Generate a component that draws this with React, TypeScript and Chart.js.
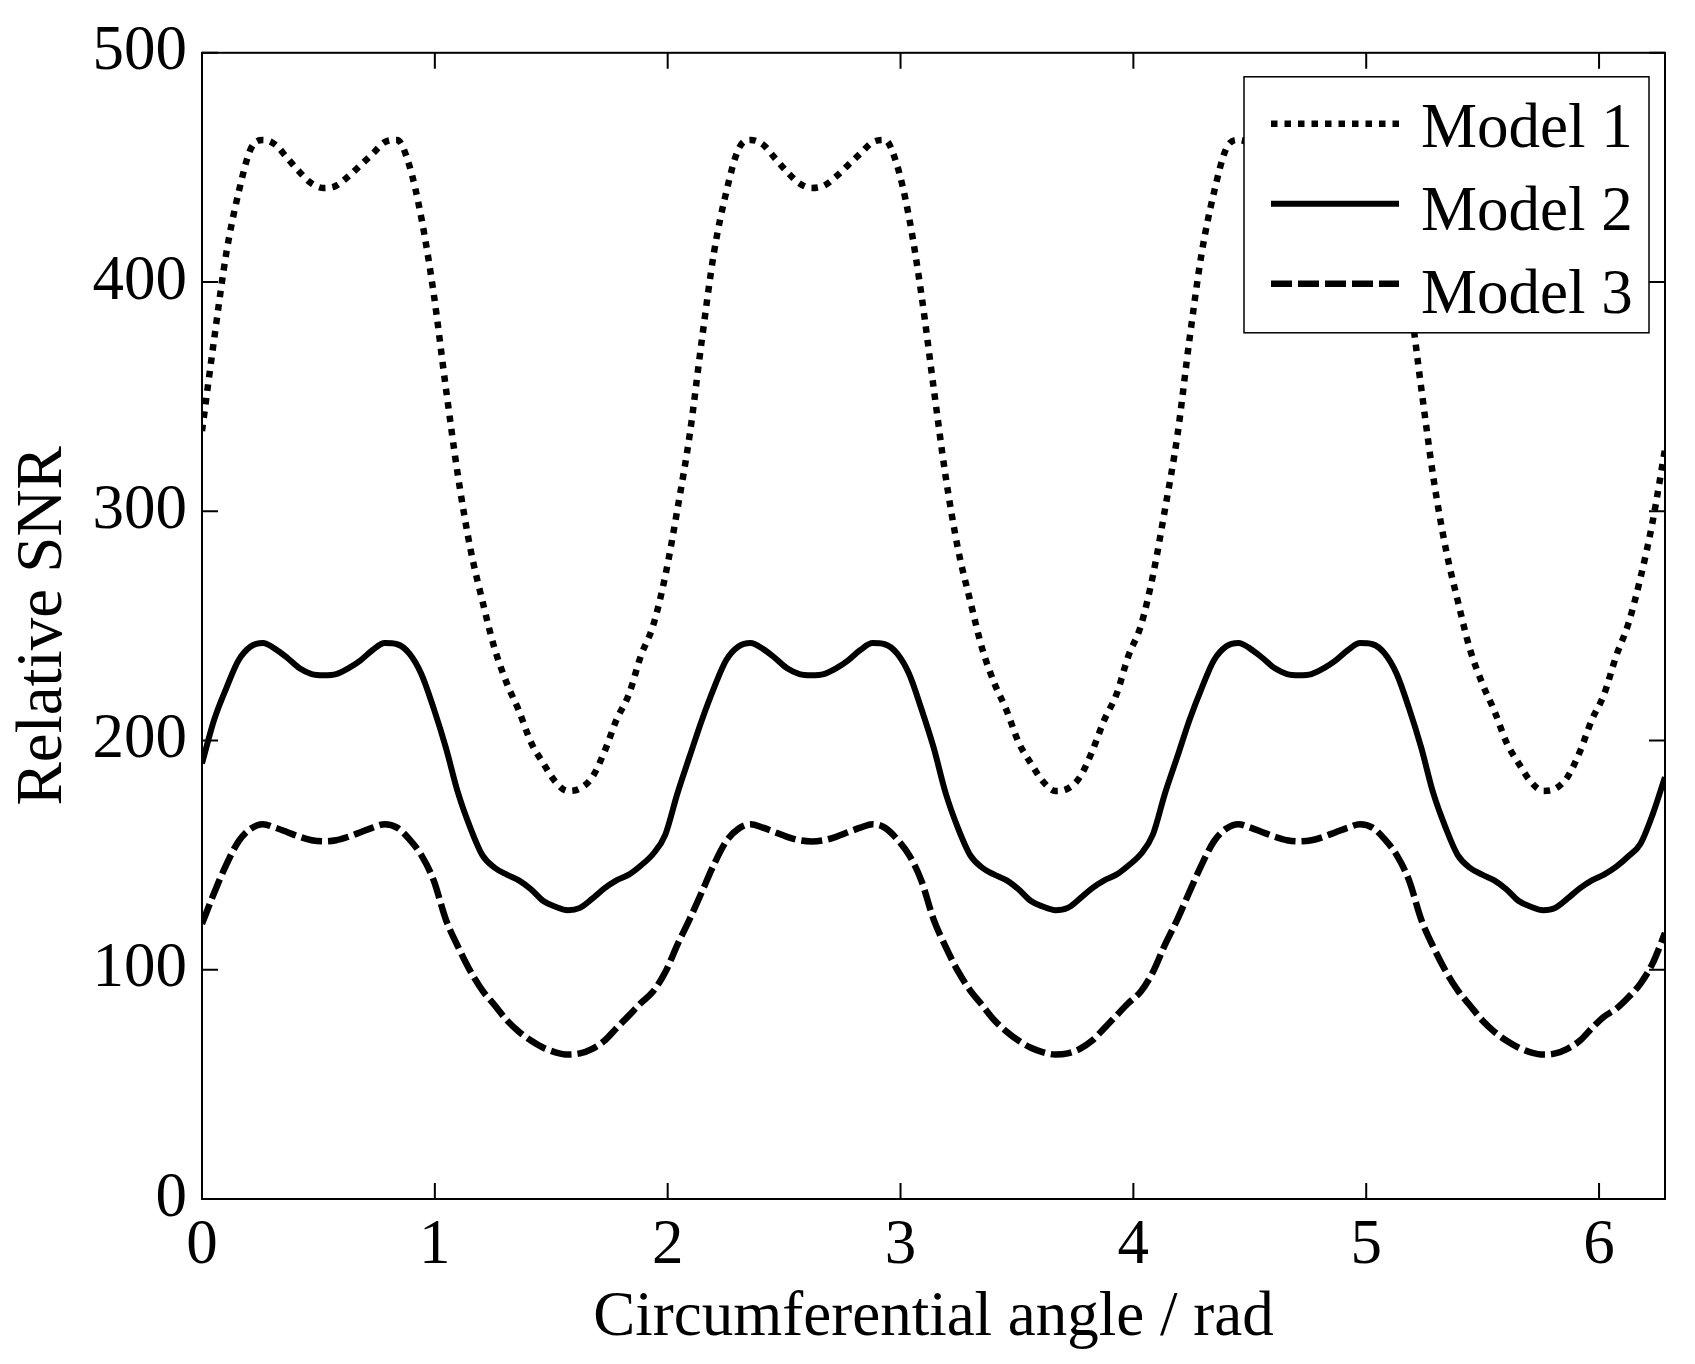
import { useEffect, useRef } from 'react';
import { Chart, registerables } from 'chart.js';

Chart.register(...registerables);

// circumferential angle grid (rad), step pi/60
const angles = [
  0, 0.052, 0.105, 0.157, 0.209, 0.262, 0.314, 0.367, 0.419, 0.471, 0.524, 0.576, 0.628, 0.681, 0.733, 0.785,
  0.838, 0.890, 0.942, 0.995, 1.047, 1.100, 1.152, 1.204, 1.257, 1.309, 1.361, 1.414, 1.466, 1.518, 1.571, 1.623,
  1.676, 1.728, 1.780, 1.833, 1.885, 1.937, 1.990, 2.042, 2.094,
  2.147, 2.199, 2.251, 2.304, 2.356, 2.409, 2.461, 2.513, 2.566, 2.618, 2.670, 2.723, 2.775, 2.827, 2.880, 2.932,
  2.985, 3.037, 3.089, 3.142,
  3.194, 3.246, 3.299, 3.351, 3.403, 3.456, 3.508, 3.560, 3.613, 3.665, 3.718, 3.770, 3.822, 3.875, 3.927, 3.979,
  4.032, 4.084, 4.136, 4.189,
  4.241, 4.294, 4.346, 4.398, 4.451, 4.503, 4.555, 4.608, 4.660, 4.712, 4.765, 4.817, 4.869, 4.922, 4.974, 5.027,
  5.079, 5.131, 5.184, 5.236,
  5.288, 5.341, 5.393, 5.445, 5.498, 5.550, 5.603, 5.655, 5.707, 5.760, 5.812, 5.864, 5.917, 5.969, 6.021, 6.074,
  6.126, 6.178, 6.231, 6.283,
];

const model1 = [
  335, 375, 413, 439, 458, 462, 460, 454, 448, 443, 441, 442, 446, 451, 456, 461, 462, 451, 428, 395,
  354, 315, 284, 261, 240, 225, 213, 199, 190, 182, 178, 179, 184, 195, 209, 220, 237, 250, 272, 301,
  333, 375, 413, 439, 458, 462, 460, 454, 448, 443, 441, 442, 446, 451, 456, 461, 462, 451, 428, 395,
  354, 315, 284, 261, 240, 225, 213, 199, 190, 182, 178, 179, 184, 195, 209, 220, 237, 250, 272, 301,
  333, 375, 413, 439, 458, 462, 460, 454, 448, 443, 441, 442, 446, 451, 456, 461, 462, 451, 428, 395,
  354, 315, 284, 261, 240, 225, 213, 199, 190, 182, 178, 179, 184, 195, 209, 220, 237, 251, 271, 296,
  327,
];

const model2 = [
  190, 209, 223, 235, 241, 242.5, 240, 236, 231.5, 229, 228.5, 229, 231.5, 235, 239.5, 242.5, 242, 238, 229, 214,
  197, 177, 162, 150, 144.5, 141.5, 139, 135, 130, 127.5, 126, 127, 131, 135.5, 139, 141.5, 145.5, 150.5, 159, 177,
  193, 209, 223, 235, 241, 242.5, 240, 236, 231.5, 229, 228.5, 229, 231.5, 235, 239.5, 242.5, 242, 238, 229, 214,
  197, 177, 162, 150, 144.5, 141.5, 139, 135, 130, 127.5, 126, 127, 131, 135.5, 139, 141.5, 145.5, 150.5, 159, 177,
  193, 209, 223, 235, 241, 242.5, 240, 236, 231.5, 229, 228.5, 229, 231.5, 235, 239.5, 242.5, 242, 238, 229, 214,
  197, 177, 162, 150, 144.5, 141.5, 139, 135, 130, 127.5, 126, 127, 131, 135.5, 139, 141.5, 145, 149.5, 155, 168,
  184,
];

const model3 = [
  120, 133.5, 146, 156, 161.5, 163.5, 162, 160, 158, 156.5, 156, 156.5, 158, 160, 162, 163.5, 162, 157, 150, 139,
  122, 110, 99.5, 91, 84.5, 78, 73, 69, 66, 64, 63, 63.5, 65.5, 69, 74.5, 80, 85.5, 90.5, 99, 111,
  122, 134, 146, 156, 161.5, 163.5, 162, 160, 158, 156.5, 156, 156.5, 158, 160, 162, 163.5, 162, 157, 150, 139,
  122, 110, 99.5, 91, 84.5, 78, 73, 69, 66, 64, 63, 63.5, 65.5, 69, 74.5, 80, 85.5, 90.5, 99, 111,
  122, 134, 146, 156, 161.5, 163.5, 162, 160, 158, 156.5, 156, 156.5, 158, 160, 162, 163.5, 162, 157, 150, 139,
  122, 110, 99.5, 91, 84.5, 78, 73, 69, 66, 64, 63, 63.5, 65.5, 69, 74.5, 79.5, 83, 88, 94, 103,
  116,
];

const seriesLabels = ['Model 1', 'Model 2', 'Model 3'];
const xTickValues = [0, 1, 2, 3, 4, 5, 6];
const yTickValues = [0, 100, 200, 300, 400, 500];

const FONT_FAMILY = '"Liberation Serif", "Times New Roman", serif';
const TICK_LEN = 16;

// inward ticks on all four sides, the box, and the boxed legend in the top right corner
const framePlugin = {
  id: 'matlabFrame',
  afterDatasetsDraw(chart: any) {
    const { ctx, chartArea: a, scales } = chart;
    ctx.save();
    ctx.strokeStyle = '#000';
    ctx.lineWidth = 2;
    ctx.setLineDash([]);
    ctx.strokeRect(a.left, a.top, a.right - a.left, a.bottom - a.top);

    ctx.beginPath();
    scales.x.ticks.forEach((t: any) => {
      const px = scales.x.getPixelForValue(t.value);
      ctx.moveTo(px, a.bottom);
      ctx.lineTo(px, a.bottom - TICK_LEN);
      ctx.moveTo(px, a.top);
      ctx.lineTo(px, a.top + TICK_LEN);
    });
    scales.y.ticks.forEach((t: any) => {
      const py = scales.y.getPixelForValue(t.value);
      ctx.moveTo(a.left, py);
      ctx.lineTo(a.left + TICK_LEN, py);
      ctx.moveTo(a.right, py);
      ctx.lineTo(a.right - TICK_LEN, py);
    });
    ctx.stroke();

    // legend
    const boxW = 405;
    const boxH = 256;
    const boxX = a.right - 16 - boxW;
    const boxY = a.top + 24;
    ctx.fillStyle = '#fff';
    ctx.fillRect(boxX, boxY, boxW, boxH);
    ctx.lineWidth = 1.5;
    ctx.strokeRect(boxX, boxY, boxW, boxH);

    ctx.font = `63px ${FONT_FAMILY}`;
    ctx.textAlign = 'left';
    ctx.textBaseline = 'alphabetic';
    chart.data.datasets.forEach((ds: any, i: number) => {
      const ly = boxY + 47 + 80 * i;
      ctx.beginPath();
      ctx.lineWidth = ds.borderWidth;
      ctx.setLineDash(ds.borderDash || []);
      ctx.moveTo(boxX + 27, ly);
      ctx.lineTo(boxX + 155, ly);
      ctx.stroke();
      ctx.setLineDash([]);
      ctx.fillStyle = '#000';
      ctx.fillText(ds.label, boxX + 177, boxY + 70 + 83 * i);
    });
    ctx.restore();
  },
};

export default function App() {
  const canvasRef = useRef<HTMLCanvasElement | null>(null);

  useEffect(() => {
    document.body.style.margin = '0';
    const canvas = canvasRef.current;
    if (!canvas) return;

    const toPoints = (vals: number[]) => angles.map((x, i) => ({ x, y: vals[i] }));

    const chart = new Chart(canvas, {
      type: 'line',
      data: {
        datasets: [
          {
            label: seriesLabels[0],
            data: toPoints(model1),
            borderColor: '#000',
            borderWidth: 6.5,
            borderDash: [6.5, 7],
            pointRadius: 0,
            cubicInterpolationMode: 'monotone',
          },
          {
            label: seriesLabels[1],
            data: toPoints(model2),
            borderColor: '#000',
            borderWidth: 6,
            borderDash: [],
            pointRadius: 0,
            cubicInterpolationMode: 'monotone',
          },
          {
            label: seriesLabels[2],
            data: toPoints(model3),
            borderColor: '#000',
            borderWidth: 6.5,
            borderDash: [21, 6],
            pointRadius: 0,
            cubicInterpolationMode: 'monotone',
          },
        ],
      },
      options: {
        animation: false,
        responsive: true,
        maintainAspectRatio: false,
        layout: { padding: { top: 49, right: 30, bottom: 0, left: 0 } },
        plugins: {
          legend: { display: false },
          tooltip: { enabled: false },
        },
        scales: {
          x: {
            type: 'linear',
            min: 0,
            max: 2 * Math.PI,
            afterBuildTicks: (s: any) => {
              s.ticks = xTickValues.map((value) => ({ value }));
            },
            afterFit: (s: any) => {
              s.height = 165;
            },
            grid: { display: false, drawTicks: false },
            border: { display: false },
            ticks: {
              color: '#000',
              padding: 10,
              maxRotation: 0,
              autoSkip: false,
              font: { family: FONT_FAMILY, size: 63 },
            },
            title: {
              display: true,
              text: 'Circumferential angle / rad',
              color: '#000',
              padding: { top: 0, bottom: 8 },
              font: { family: FONT_FAMILY, size: 63, lineHeight: 1.2 },
            },
          },
          y: {
            type: 'linear',
            min: 0,
            max: 500,
            afterBuildTicks: (s: any) => {
              s.ticks = yTickValues.map((value) => ({ value }));
            },
            afterFit: (s: any) => {
              s.width = 202;
            },
            grid: { display: false, drawTicks: false },
            border: { display: false },
            ticks: {
              color: '#000',
              padding: 15,
              font: { family: FONT_FAMILY, size: 63 },
            },
            title: {
              display: true,
              text: 'Relative SNR',
              color: '#000',
              padding: { top: 5, bottom: 0 },
              font: { family: FONT_FAMILY, size: 65, lineHeight: 1.2 },
            },
          },
        },
      },
      plugins: [framePlugin],
    });

    return () => chart.destroy();
  }, []);

  return (
    <div style={{ width: 1695, height: 1364, position: 'relative', background: '#fff' }}>
      <canvas ref={canvasRef} />
    </div>
  );
}
